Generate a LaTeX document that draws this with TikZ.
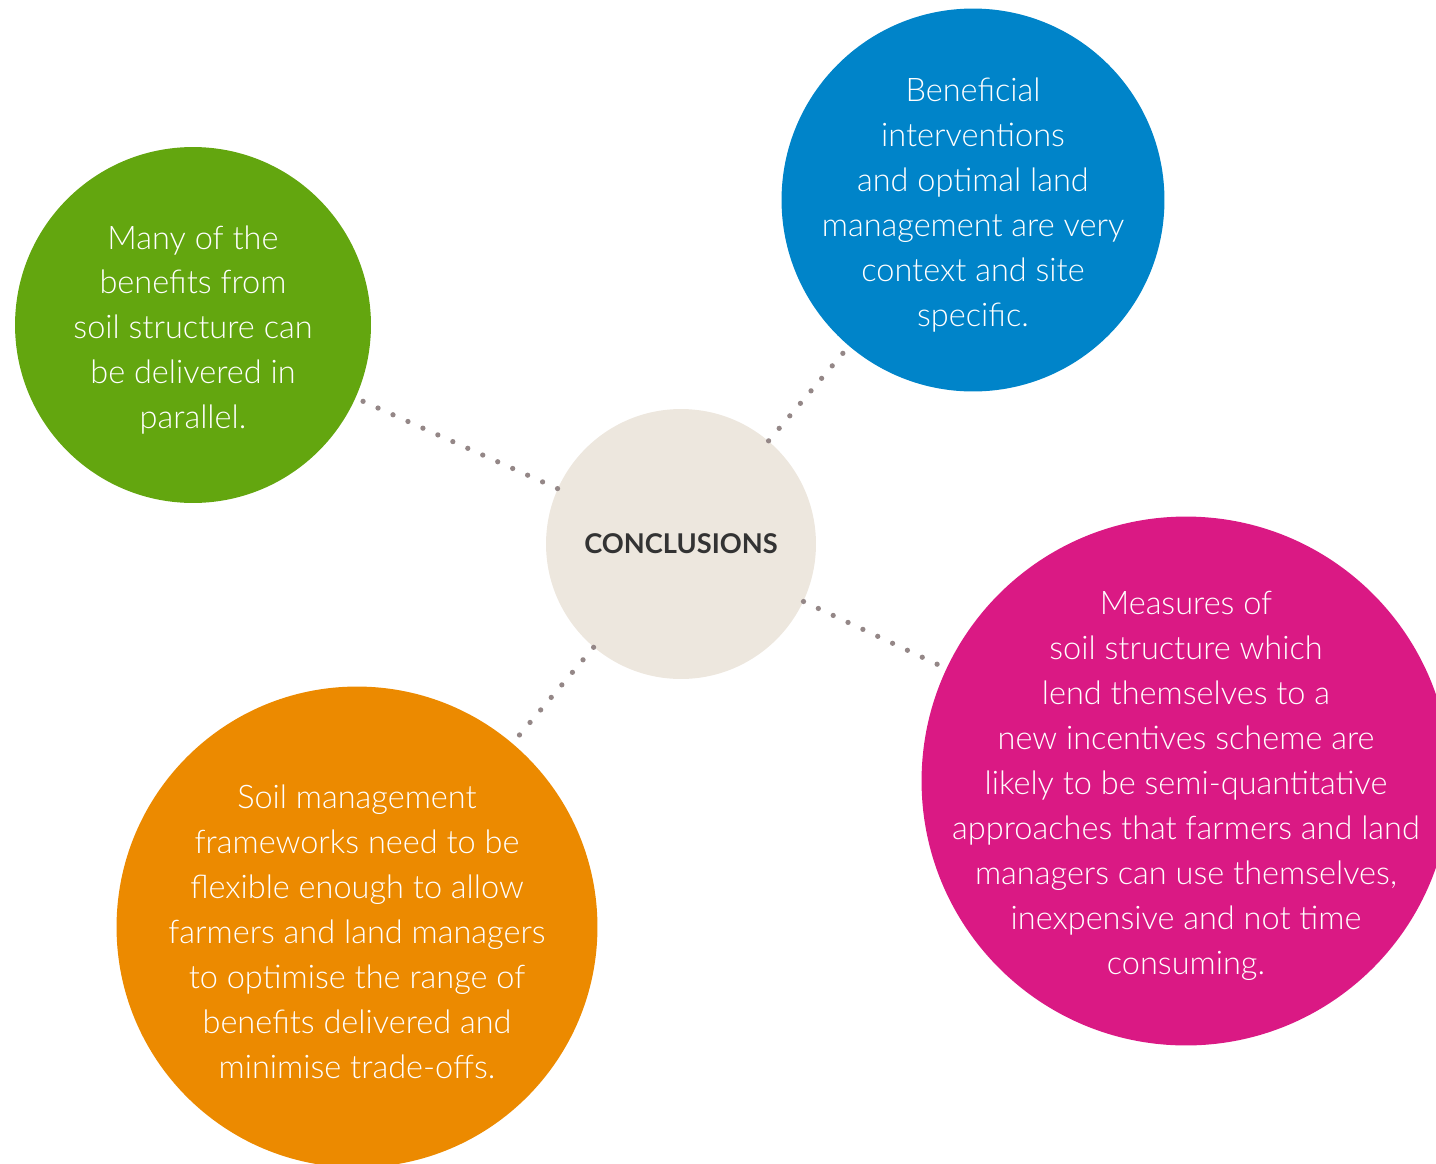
\documentclass[tikz,border=0pt]{standalone}
\usepackage{fontspec}
\setmainfont{Lato}[UprightFont=* Light,BoldFont=* Bold]
\usetikzlibrary{positioning}
\definecolor{leafgreen}{HTML}{63A60F}
\definecolor{skyblue}{HTML}{0084C9}
\definecolor{berry}{HTML}{DA1984}
\definecolor{amber}{HTML}{EC8A00}
\definecolor{sand}{HTML}{EDE7DE}
\definecolor{dotgray}{HTML}{948787}

\begin{document}
\begin{tikzpicture}[x=0.02cm,y=-0.02cm,
  bubble/.style={circle,inner sep=0pt},
  blurb/.style={label={[text=white,align=center,yshift=-0.1cm,
    font=\fontsize{18.5}{25.6}\selectfont]center:#1}},
  link/.style={dotgray,line width=0.105cm,line cap=round,dash pattern=on 0pt off 0.328cm}]
  \clip (0,0) rectangle (1436,1163);
  \node[bubble,fill=sand,minimum size=5.4cm,text=black!80,
    font=\bfseries\fontsize{15.5}{18}\selectfont] (hub) at (681,544) {CONCLUSIONS};
  \node[bubble,fill=leafgreen,minimum size=7.12cm,
    blurb={Many of the\\benefits from\\soil structure can\\be delivered in\\parallel.}]
    (parallel) at (193,325) {};
  \node[bubble,fill=skyblue,minimum size=7.66cm,
    blurb={Beneficial\\interventions\\and optimal land\\management are very\\context and site\\specific.}]
    (context) at (973,200) {};
  \node[bubble,fill=berry,minimum size=10.58cm,
    blurb={Measures of\\soil structure which\\lend themselves to a\\new incentives scheme are\\likely to be semi-quantitative\\approaches that farmers and land\\managers can use themselves,\\inexpensive and not time\\consuming.}]
    (measures) at (1186,781) {};
  \node[bubble,fill=amber,minimum size=9.62cm,
    blurb={Soil management\\frameworks need to be\\flexible enough to allow\\farmers and land managers\\to optimise the range of\\benefits delivered and\\minimise trade-offs.}]
    (frameworks) at (357,927) {};
  \draw[link] (hub) -- (parallel);
  \draw[link] (hub) -- (context);
  \draw[link] (hub) -- (measures);
  \draw[link] (hub) -- (frameworks);
\end{tikzpicture}
\end{document}
